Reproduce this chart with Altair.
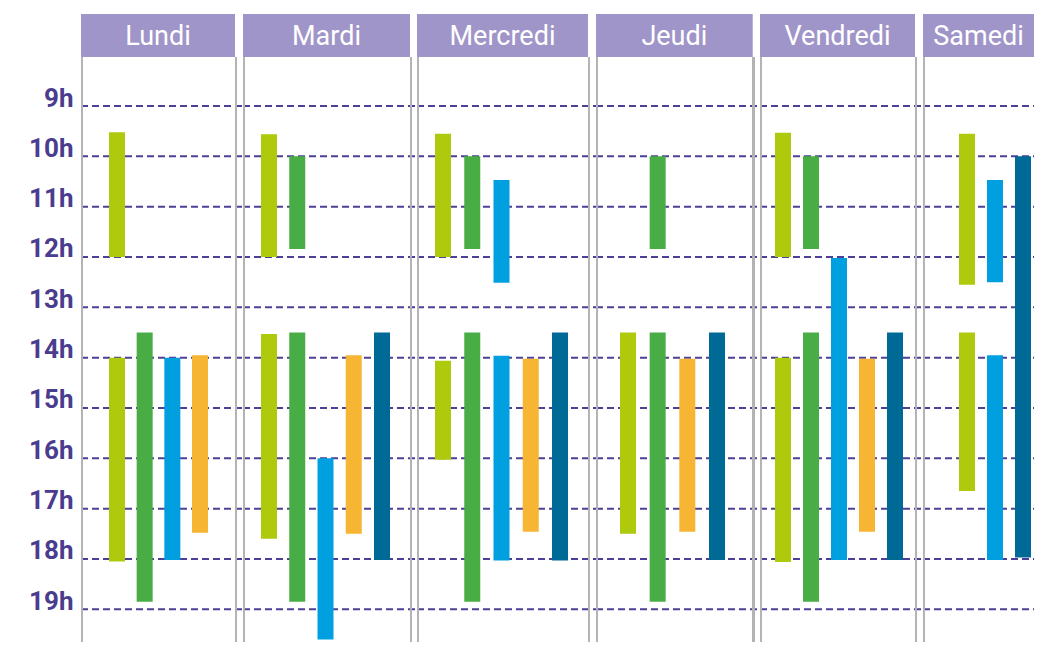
import altair as alt
import pandas as pd

# ---------------- data ----------------
days = ["Lundi", "Mardi", "Mercredi", "Jeudi", "Vendredi", "Samedi"]
services = ["A", "B", "C", "D", "E"]
service_colors = ["#AFC90C", "#48AD44", "#009FE0", "#F6B533", "#006A97"]
hours = [9, 10, 11, 12, 13, 14, 15, 16, 17, 18, 19]

bar_day = [
    "Lundi", "Lundi", "Lundi", "Lundi", "Lundi",
    "Mardi", "Mardi", "Mardi", "Mardi", "Mardi", "Mardi", "Mardi",
    "Mercredi", "Mercredi", "Mercredi", "Mercredi", "Mercredi", "Mercredi", "Mercredi", "Mercredi",
    "Jeudi", "Jeudi", "Jeudi", "Jeudi", "Jeudi",
    "Vendredi", "Vendredi", "Vendredi", "Vendredi", "Vendredi", "Vendredi", "Vendredi",
    "Samedi", "Samedi", "Samedi", "Samedi", "Samedi",
]
bar_service = [
    "A", "A", "B", "C", "D",
    "A", "B", "A", "B", "C", "D", "E",
    "A", "B", "C", "A", "B", "C", "D", "E",
    "B", "A", "B", "D", "E",
    "A", "B", "C", "A", "B", "D", "E",
    "A", "C", "E", "A", "C",
]
bar_start = [
    9.52, 14.0, 13.5, 14.0, 13.95,
    9.56, 10.0, 13.53, 13.5, 16.0, 13.95, 13.5,
    9.55, 10.0, 10.47, 14.06, 13.5, 13.96, 14.02, 13.5,
    10.0, 13.5, 13.5, 14.02, 13.5,
    9.53, 10.0, 12.02, 14.0, 13.5, 14.02, 13.5,
    9.55, 10.47, 10.0, 13.5, 13.95,
]
bar_end = [
    12.0, 18.05, 18.85, 18.02, 17.48,
    12.0, 11.84, 17.6, 18.85, 19.6, 17.5, 18.02,
    12.0, 11.84, 12.51, 16.03, 18.85, 18.03, 17.46, 18.03,
    11.84, 17.5, 18.85, 17.46, 18.02,
    12.0, 11.84, 18.02, 18.06, 18.85, 17.46, 18.02,
    12.55, 12.5, 17.97, 16.65, 18.02,
]

# ---------------- layout / style ----------------
group_w = [162, 174, 179, 164, 163, 111]
right_border = [155, 168, 172, 157.7, 156, None]
col_range = [[36, 119], [26, 139], [26, 143], [32, 121], [23, 135], [44, 100]]
H = 628
HEADER_H = 43
PX_PER_H = 50.33
y_top = 9 - 92 / PX_PER_H
y_domain = [y_top, y_top + H / PX_PER_H]

HEADER = "#A095C8"
GRID = "#4E3F96"
LABEL = "#4A3C8E"
BORDER = "#B4B4B4"

df = pd.DataFrame({"day": bar_day, "service": bar_service,
                   "start": bar_start, "end": bar_end})
grid_df = pd.DataFrame({"hour": hours})

yscale = alt.Scale(domain=y_domain, reverse=True, nice=False, zero=False)
yaxis = alt.Axis(values=hours, labelExpr="datum.value + 'h'", labelFont="Roboto",
                 labelFontSize=26, labelFontWeight="bold", labelColor=LABEL,
                 labelPadding=8, ticks=False, tickSize=0, domain=False, grid=False,
                 title=None, labelBaseline="alphabetic", labelOverlap=False,
                 minExtent=65, maxExtent=65)

panels = []
for i, day in enumerate(days):
    w = group_w[i]
    ax = yaxis if i == 0 else None
    sub = df[df["day"] == day]
    present = [s for s in services if s in set(sub["service"])]
    hdr_w = (right_border[i] - 1) if right_border[i] is not None else w

    grid = alt.Chart(grid_df).mark_rule(color=GRID, strokeWidth=2, strokeDash=[7, 4]).encode(
        y=alt.Y("hour:Q", scale=yscale, axis=ax),
        x=alt.value(0), x2=alt.value(w))

    layers = [grid]
    border_l = alt.Chart(grid_df).mark_rule(color=BORDER, strokeWidth=2).encode(
        x=alt.value(1), y=alt.value(HEADER_H), y2=alt.value(H))
    layers.append(border_l)
    if right_border[i] is not None:
        border_r = alt.Chart(grid_df).mark_rule(color=BORDER, strokeWidth=2).encode(
            x=alt.value(right_border[i]), y=alt.value(HEADER_H), y2=alt.value(H))
        layers.append(border_r)

    bars = alt.Chart(sub).mark_bar(size=16).encode(
        x=alt.X("service:N",
                scale=alt.Scale(type="point", domain=present, range=col_range[i], padding=0),
                axis=None),
        y=alt.Y("start:Q", scale=yscale, axis=ax),
        y2="end:Q",
        color=alt.Color("service:N", scale=alt.Scale(domain=services, range=service_colors),
                        legend=None))
    layers.append(bars)

    hdr_df = pd.DataFrame({"day": [day]})
    header = alt.Chart(hdr_df).mark_rect(color=HEADER).encode(
        x=alt.value(0), x2=alt.value(hdr_w), y=alt.value(0), y2=alt.value(HEADER_H))
    htext = alt.Chart(hdr_df).mark_text(font="Roboto", fontSize=27, color="white",
                                        align="center", baseline="alphabetic").encode(
        text="day:N", x=alt.value(hdr_w / 2), y=alt.value(31))
    layers += [header, htext]

    panels.append(alt.layer(*layers).properties(width=w, height=H))

chart = alt.hconcat(*panels, spacing=0, bounds="flush").resolve_scale(
    x="independent", y="shared", color="shared"
).properties(
    padding={"left": 8, "top": 6, "right": 0, "bottom": 0}
).configure_view(stroke=None)

chart.save("out.html", embed_options={"renderer": "svg", "actions": False})
